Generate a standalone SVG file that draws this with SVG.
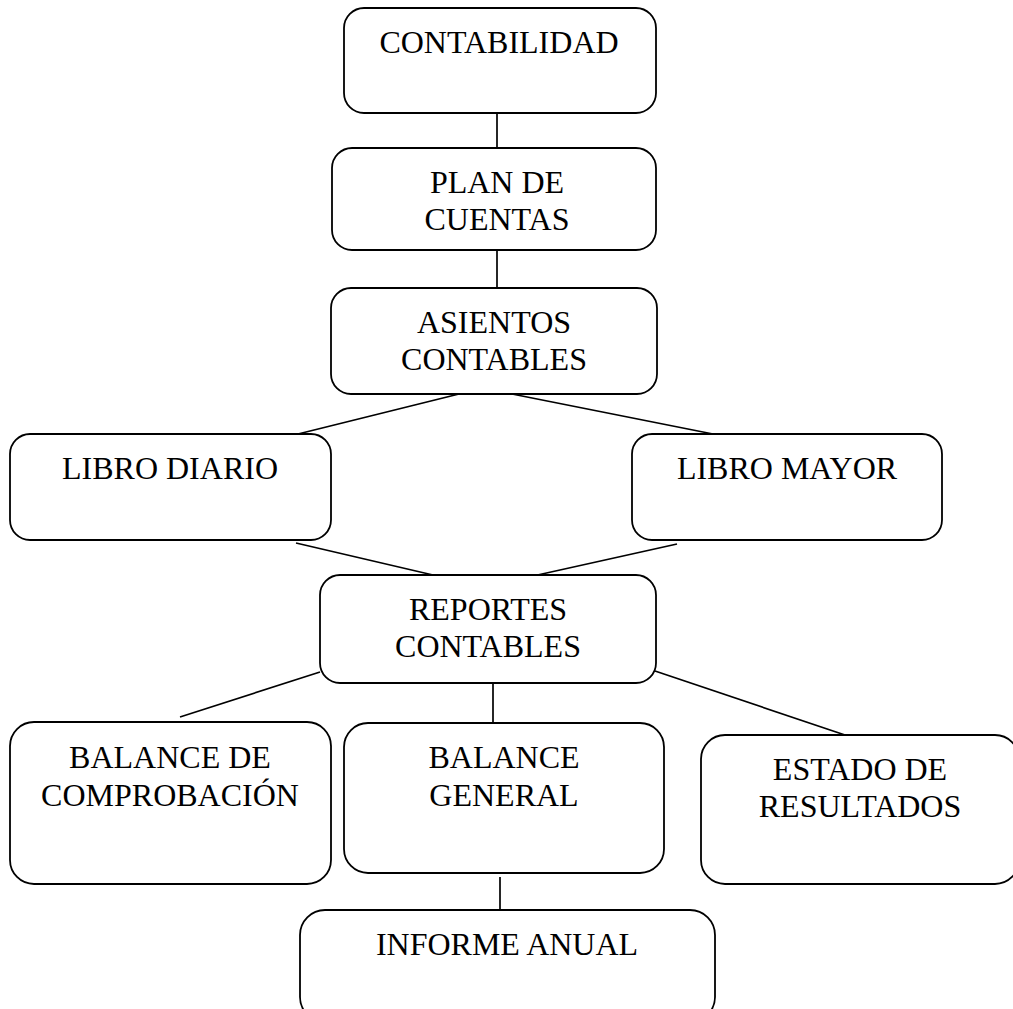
<svg xmlns="http://www.w3.org/2000/svg" width="1013" height="1009" viewBox="0 0 1013 1009">
<style>
.box{fill:#fff;stroke:#000;stroke-width:1.8}
.t{font-family:"Liberation Serif","Times New Roman",serif;font-size:32px;fill:#000;text-anchor:middle}
.c{stroke:#000;stroke-width:1.7;fill:none}
</style>
<rect width="1013" height="1009" fill="#fff"/>
<g id="connectors">
<line class="c" x1="497" y1="113" x2="497" y2="148"/>
<line class="c" x1="497" y1="250" x2="497" y2="288"/>
<line class="c" x1="459" y1="394" x2="298" y2="434"/>
<line class="c" x1="512" y1="394" x2="713" y2="434"/>
<line class="c" x1="296" y1="543" x2="433" y2="575"/>
<line class="c" x1="677" y1="544" x2="533" y2="576"/>
<line class="c" x1="320" y1="672" x2="180" y2="717"/>
<line class="c" x1="493" y1="683" x2="493" y2="723"/>
<line class="c" x1="655" y1="671" x2="845" y2="735"/>
<line class="c" x1="500" y1="877" x2="500" y2="910"/>
</g>
<g id="contabilidad">
<rect class="box" x="344" y="8" width="312" height="105" rx="20"/>
<text class="t" x="499" y="53">CONTABILIDAD</text>
</g>
<g id="plan-de-cuentas">
<rect class="box" x="332" y="148" width="324" height="102" rx="20"/>
<text class="t" x="497" y="193">PLAN DE</text>
<text class="t" x="497" y="230">CUENTAS</text>
</g>
<g id="asientos-contables">
<rect class="box" x="331" y="288" width="326" height="106" rx="20"/>
<text class="t" x="494" y="333">ASIENTOS</text>
<text class="t" x="494" y="370">CONTABLES</text>
</g>
<g id="libro-diario">
<rect class="box" x="10" y="434" width="321" height="106" rx="20"/>
<text class="t" x="170" y="479">LIBRO DIARIO</text>
</g>
<g id="libro-mayor">
<rect class="box" x="632" y="434" width="310" height="106" rx="20"/>
<text class="t" x="787" y="479">LIBRO MAYOR</text>
</g>
<g id="reportes-contables">
<rect class="box" x="320" y="575" width="336" height="108" rx="20"/>
<text class="t" x="488" y="620">REPORTES</text>
<text class="t" x="488" y="657">CONTABLES</text>
</g>
<g id="balance-comprobacion">
<rect class="box" x="10" y="722" width="321" height="162" rx="24"/>
<text class="t" x="170" y="768">BALANCE DE</text>
<text class="t" x="170" y="806">COMPROBACIÓN</text>
</g>
<g id="balance-general">
<rect class="box" x="344" y="723" width="320" height="150" rx="24"/>
<text class="t" x="504" y="768">BALANCE</text>
<text class="t" x="504" y="806">GENERAL</text>
</g>
<g id="estado-resultados">
<rect class="box" x="701" y="735" width="318" height="149" rx="24"/>
<text class="t" x="860" y="780">ESTADO DE</text>
<text class="t" x="860" y="817">RESULTADOS</text>
</g>
<g id="informe-anual">
<rect class="box" x="300" y="910" width="415" height="112" rx="25"/>
<text class="t" x="507" y="955">INFORME ANUAL</text>
</g>
</svg>
